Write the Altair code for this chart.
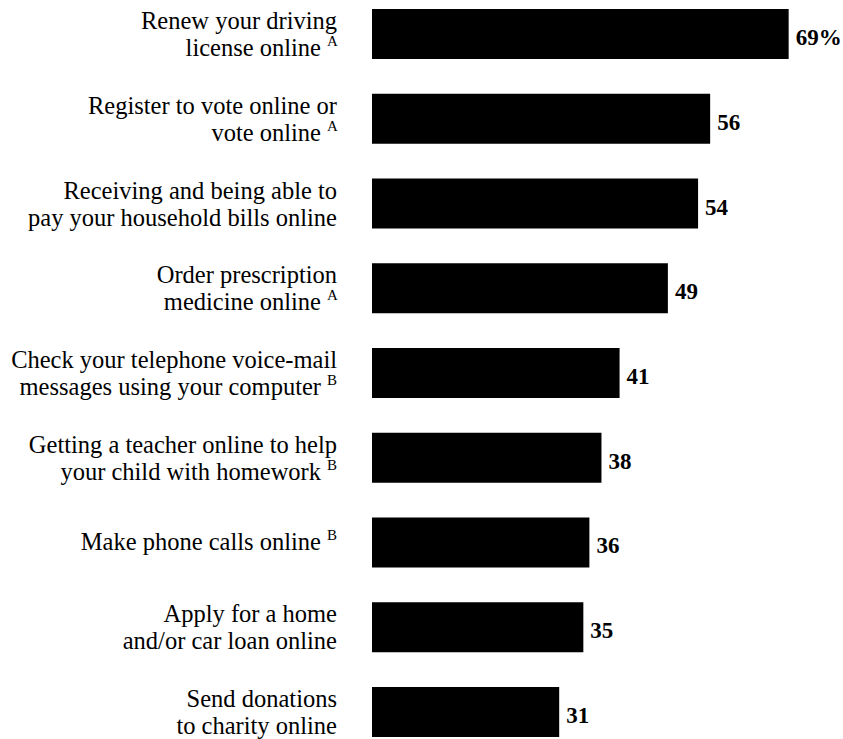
import altair as alt
import pandas as pd

# ---- data ----
categories = [
    "Renew your driving license online",
    "Register to vote online or vote online",
    "Receiving and being able to pay your household bills online",
    "Order prescription medicine online",
    "Check your telephone voice-mail messages using your computer",
    "Getting a teacher online to help your child with homework",
    "Make phone calls online",
    "Apply for a home and/or car loan online",
    "Send donations to charity online",
]
line1 = [
    "Renew your driving",
    "Register to vote online or",
    "Receiving and being able to",
    "Order prescription",
    "Check your telephone voice-mail",
    "Getting a teacher online to help",
    "Make phone calls online",
    "Apply for a home",
    "Send donations",
]
line2 = [
    "license online",
    "vote online",
    "pay your household bills online",
    "medicine online",
    "messages using your computer",
    "your child with homework",
    "",
    "and/or car loan online",
    "to charity online",
]
footnotes = ["A", "A", "", "A", "B", "B", "B", "", ""]
values = [69, 56, 54, 49, 41, 38, 36, 35, 31]
value_labels = [f"{v}%" if i == 0 else str(v) for i, v in enumerate(values)]

df = pd.DataFrame({
    "cat": categories,
    "l1": line1,
    "l2": line2,
    "sup": footnotes,
    "value": values,
    "vlabel": value_labels,
})

FONT = "'Times New Roman', 'Liberation Serif', Times, serif"
LABEL_SIZE = 24.5
SUP_SIZE = 15
RIGHT = -35      # right edge of label text (relative to plot left)
LAST_RIGHT = -51 # right edge of last line when followed by a superscript
SUP_LEFT = -45

base = alt.Chart(df)
y = alt.Y("cat:N", sort=categories, axis=None,
          scale=alt.Scale(paddingInner=0.41, paddingOuter=0))

bars = base.mark_bar(color="black").encode(
    x=alt.X("value:Q", axis=None, scale=alt.Scale(domain=[0, 78], nice=False)),
    y=y,
)

vals = base.mark_text(
    align="left", baseline="alphabetic", dx=7, dy=11,
    font=FONT, fontSize=23, fontWeight="bold", color="black",
).encode(
    x=alt.X("value:Q"),
    y=y,
    text="vlabel:N",
)

def txt(filter_expr, field, xpos, dy, align="right", size=LABEL_SIZE):
    return base.transform_filter(filter_expr).mark_text(
        align=align, baseline="alphabetic", dy=dy,
        font=FONT, fontSize=size, color="black",
    ).encode(
        x=alt.value(xpos),
        y=y,
        text=f"{field}:N",
    )

two = "datum.l2 != ''"
one = "datum.l2 == ''"
hs = "datum.sup != ''"
ns = "datum.sup == ''"

layers = [
    bars,
    vals,
    # two-line labels
    txt(two, "l1", RIGHT, -5),
    txt(f"{two} && {ns}", "l2", RIGHT, 22),
    txt(f"{two} && {hs}", "l2", LAST_RIGHT, 22),
    txt(f"{two} && {hs}", "sup", SUP_LEFT, 12, align="left", size=SUP_SIZE),
    # single-line labels
    txt(f"{one} && {ns}", "l1", RIGHT, 8),
    txt(f"{one} && {hs}", "l1", LAST_RIGHT, 8),
    txt(f"{one} && {hs}", "sup", SUP_LEFT, -2, align="left", size=SUP_SIZE),
]

chart = alt.layer(*layers).properties(
    width=471,
    height=728,
    autosize=alt.AutoSizeParams(type="none"),
    padding={"left": 372, "top": 9, "right": 0, "bottom": 2},
    background="white",
).configure_view(stroke=None)

chart.save("out.html", embed_options={"renderer": "svg", "actions": False})
